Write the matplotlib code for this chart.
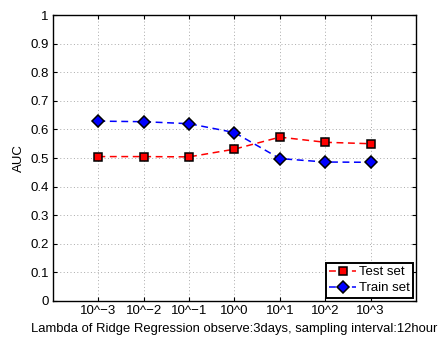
import matplotlib
matplotlib.use("Agg")
import matplotlib.pyplot as plt

plt.rcParams['font.family'] = ['Liberation Sans', 'DejaVu Sans']

x = [1, 2, 3, 4, 5, 6, 7]
xlabels = ['10^\u22123', '10^\u22122', '10^\u22121', '10^0', '10^1', '10^2', '10^3']
test_auc = [0.505, 0.505, 0.504, 0.531, 0.573, 0.555, 0.550]
train_auc = [0.629, 0.627, 0.620, 0.589, 0.498, 0.486, 0.485]

fig = plt.figure(figsize=(4.47, 3.38), dpi=100)
ax = fig.add_axes([0.1186, 0.1095, 0.812, 0.846])

ax.plot(x, test_auc, 'r--s', markerfacecolor='red', markeredgecolor='black',
        markersize=6, markeredgewidth=1.1, linewidth=1.1, dashes=(4.5, 3),
        label='Test set')
ax.plot(x, train_auc, 'b--D', markerfacecolor='blue', markeredgecolor='black',
        markersize=6.5, markeredgewidth=1.1, linewidth=1.1, dashes=(4.5, 3),
        label='Train set')

ax.set_xlim(0, 8)
ax.set_ylim(0, 1)
ax.set_xticks(x)
ax.set_xticklabels(xlabels)
ax.set_yticks([i / 10 for i in range(11)])
ax.set_yticklabels(['0', '0.1', '0.2', '0.3', '0.4', '0.5', '0.6', '0.7', '0.8', '0.9', '1'])
ax.tick_params(direction='in', top=True, right=True, labelsize=9.5, length=3, pad=3)
ax.grid(True, linestyle=(0, (1, 2.5)), color='#aaaaaa', linewidth=0.7)
for s in ax.spines.values():
    s.set_linewidth(1.0)

ax.set_xlabel('Lambda of Ridge Regression observe:3days, sampling interval:12hour',
              fontsize=9.4, labelpad=4)
ax.set_ylabel('AUC', fontsize=9.5, labelpad=4)

leg = ax.legend(loc='lower right', fontsize=9.5, fancybox=False, framealpha=1,
                edgecolor='black', borderpad=0.25, handlelength=2.0, handletextpad=0.2,
                labelspacing=0.3, borderaxespad=0.25)
leg.get_frame().set_linewidth(1.4)

fig.savefig('out.png', dpi=100)
